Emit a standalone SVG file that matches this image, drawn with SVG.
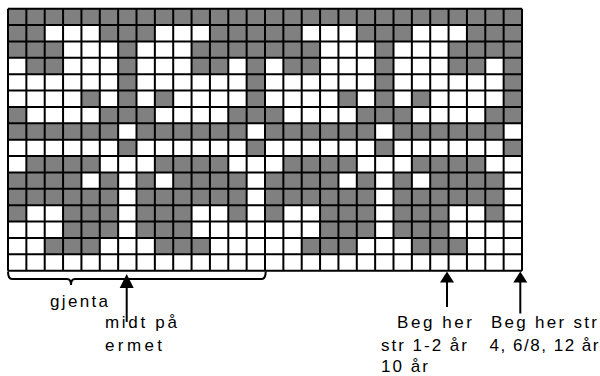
<svg xmlns="http://www.w3.org/2000/svg" xmlns:xlink="http://www.w3.org/1999/xlink" width="600" height="376" viewBox="0 0 600 376">
<style>
.g{fill:#808080}
.grid{fill:none;stroke:#000;stroke-width:2}
.lbl{font-family:"Liberation Sans",Arial,sans-serif;font-size:17px;fill:#000}
.con{fill:none;stroke:#000;stroke-width:2}
.head{fill:#000}
</style>
<defs>
<g id="unit">
<rect class="g" x="0" y="0" width="14" height="1"/>
<rect class="g" x="0" y="1" width="2" height="1"/><rect class="g" x="5" y="1" width="3" height="1"/><rect class="g" x="11" y="1" width="3" height="1"/>
<rect class="g" x="0" y="2" width="3" height="1"/><rect class="g" x="6" y="2" width="1" height="1"/><rect class="g" x="10" y="2" width="4" height="1"/>
<rect class="g" x="1" y="3" width="2" height="1"/><rect class="g" x="6" y="3" width="1" height="1"/><rect class="g" x="10" y="3" width="2" height="1"/><rect class="g" x="13" y="3" width="1" height="1"/>
<rect class="g" x="6" y="4" width="1" height="1"/><rect class="g" x="13" y="4" width="1" height="1"/>
<rect class="g" x="4" y="5" width="1" height="1"/><rect class="g" x="6" y="5" width="1" height="1"/><rect class="g" x="8" y="5" width="1" height="1"/><rect class="g" x="13" y="5" width="1" height="1"/>
<rect class="g" x="0" y="6" width="1" height="1"/><rect class="g" x="5" y="6" width="3" height="1"/><rect class="g" x="12" y="6" width="2" height="1"/>
<rect class="g" x="0" y="7" width="6" height="1"/><rect class="g" x="7" y="7" width="6" height="1"/>
<rect class="g" x="6" y="8" width="1" height="1"/><rect class="g" x="13" y="8" width="1" height="1"/>
<rect class="g" x="1" y="9" width="4" height="1"/><rect class="g" x="8" y="9" width="4" height="1"/>
<rect class="g" x="0" y="10" width="4" height="1"/><rect class="g" x="5" y="10" width="1" height="1"/><rect class="g" x="7" y="10" width="1" height="1"/><rect class="g" x="9" y="10" width="4" height="1"/>
<rect class="g" x="0" y="11" width="6" height="1"/><rect class="g" x="7" y="11" width="6" height="1"/>
<rect class="g" x="0" y="12" width="1" height="1"/><rect class="g" x="3" y="12" width="3" height="1"/><rect class="g" x="7" y="12" width="3" height="1"/><rect class="g" x="12" y="12" width="1" height="1"/>
<rect class="g" x="3" y="13" width="3" height="1"/><rect class="g" x="7" y="13" width="3" height="1"/>
<rect class="g" x="2" y="14" width="3" height="1"/><rect class="g" x="8" y="14" width="3" height="1"/>
</g>
</defs>
<g id="chart">
<rect x="8" y="8.7" width="514" height="262" fill="#fff"/>
<g transform="translate(8 8.7) scale(18.357 16.375)">
<use xlink:href="#unit" href="#unit"/>
<use xlink:href="#unit" href="#unit" x="14"/>
</g>
<path class="grid" d="M8 8.7V270.7M26.36 8.7V270.7M44.71 8.7V270.7M63.07 8.7V270.7M81.43 8.7V270.7M99.79 8.7V270.7M118.14 8.7V270.7M136.5 8.7V270.7M154.86 8.7V270.7M173.21 8.7V270.7M191.57 8.7V270.7M209.93 8.7V270.7M228.29 8.7V270.7M246.64 8.7V270.7M265 8.7V270.7M283.36 8.7V270.7M301.71 8.7V270.7M320.07 8.7V270.7M338.43 8.7V270.7M356.79 8.7V270.7M375.14 8.7V270.7M393.5 8.7V270.7M411.86 8.7V270.7M430.21 8.7V270.7M448.57 8.7V270.7M466.93 8.7V270.7M485.29 8.7V270.7M503.64 8.7V270.7M522 8.7V270.7M8 8.7H522M8 25.08H522M8 41.45H522M8 57.83H522M8 74.2H522M8 90.58H522M8 106.95H522M8 123.33H522M8 139.7H522M8 156.08H522M8 172.45H522M8 188.83H522M8 205.2H522M8 221.58H522M8 237.95H522M8 254.33H522M8 270.7H522"/>
</g>
<g id="connectors">
<path class="con" d="M8 271.5Q8 279 12 279H67Q71 279 71 285Q71 279 75 279H261.7Q265.7 279 265.7 271.5"/>
<path class="con" d="M126.7 286V322"/>
<path class="head" d="M126.7 274L133.7 288L119.7 288Z"/>
<path class="con" d="M447 281V307"/>
<path class="head" d="M447 271.5L454 282.5L440 282.5Z"/>
<path class="con" d="M520.3 281V313.5"/>
<path class="head" d="M520.3 271.5L527.3 282.5L513.3 282.5Z"/>
</g>
<g id="label-gjenta"><text class="lbl" x="50" y="306.7" textLength="58" lengthAdjust="spacing">gjenta</text></g>
<g id="label-midt"><text class="lbl" x="105" y="328.3" textLength="72" lengthAdjust="spacing">midt på</text><text class="lbl" x="105" y="350.7" textLength="57" lengthAdjust="spacing">ermet</text></g>
<g id="label-beg1"><text class="lbl" x="397" y="328.3" textLength="75" lengthAdjust="spacing">Beg her</text><text class="lbl" x="381" y="350.7" textLength="86" lengthAdjust="spacing">str 1-2 år</text><text class="lbl" x="381" y="371.7" textLength="47" lengthAdjust="spacing">10 år</text></g>
<g id="label-beg2"><text class="lbl" x="491" y="328.3" textLength="106" lengthAdjust="spacing">Beg her str</text><text class="lbl" x="489.5" y="350.7" textLength="109" lengthAdjust="spacing">4, 6/8, 12 år</text></g>
</svg>
